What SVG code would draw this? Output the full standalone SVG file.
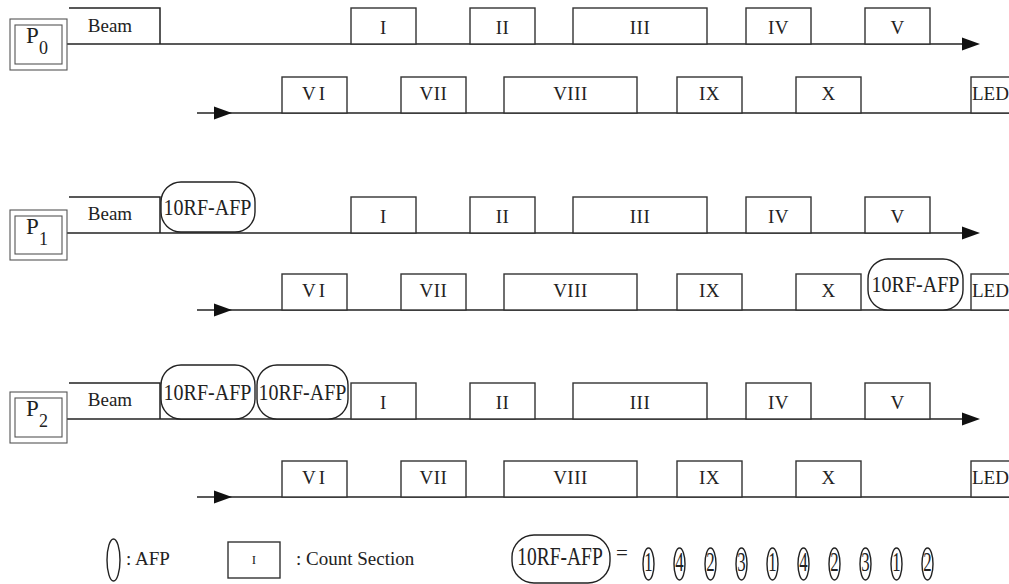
<svg xmlns="http://www.w3.org/2000/svg" xmlns:xlink="http://www.w3.org/1999/xlink" width="1009" height="584" viewBox="0 0 1009 584">
<style>
.box{fill:#fff;stroke:#333;stroke-width:1.4}
.ln{stroke:#222;stroke-width:1.5;fill:none}
.afp{fill:#fff;stroke:#222;stroke-width:1.4}
.pb{fill:none;stroke:#555;stroke-width:1.1}
.t{font-family:"Liberation Serif","Times New Roman",serif;font-size:19px;fill:#222;text-anchor:middle}
.rn{letter-spacing:0.5px}
.ts{text-anchor:start}
.pt{font-family:"Liberation Serif","Times New Roman",serif;font-size:23px;fill:#222}
.ps{font-family:"Liberation Serif","Times New Roman",serif;font-size:18px;fill:#222}
.rf{font-family:"Liberation Serif","Times New Roman",serif;font-size:20px;fill:#222;text-anchor:middle}
.dg{font-family:"Liberation Serif","Times New Roman",serif;font-size:21px;fill:#222;text-anchor:middle}
</style>
<defs>
<path id="ah" d="M0,-6.5 L18,0 L0,6.5 Z" fill="#111"/>
</defs>
<rect width="1009" height="584" fill="#fff"/>

<g id="connectors">
<line class="ln" x1="67" y1="44" x2="966" y2="44"/>
<use xlink:href="#ah" x="962" y="44"/>
<line class="ln" x1="197" y1="113" x2="1009" y2="113"/>
<use xlink:href="#ah" x="214" y="113"/>
<line class="ln" x1="67" y1="233" x2="966" y2="233"/>
<use xlink:href="#ah" x="962" y="233"/>
<line class="ln" x1="197" y1="310" x2="1009" y2="310"/>
<use xlink:href="#ah" x="214" y="310"/>
<line class="ln" x1="67" y1="419" x2="966" y2="419"/>
<use xlink:href="#ah" x="962" y="419"/>
<line class="ln" x1="197" y1="497" x2="1009" y2="497"/>
<use xlink:href="#ah" x="214" y="497"/>
</g>

<!-- Row P0 -->
<g id="p0"><rect class="pb" x="10" y="19" width="57" height="51"/><rect class="pb" x="15" y="25" width="47" height="39"/><text class="pt" x="26" y="43">P</text><text class="ps" x="39" y="54">0</text></g>
<g id="beam0"><path class="ln" d="M69,8 H160 V44"/><text class="t" x="110" y="32">Beam</text></g>
<g id="r0-I"><rect class="box" x="351" y="8" width="65" height="36"/><text class="t rn" x="383.5" y="34">I</text></g>
<g id="r0-II"><rect class="box" x="470" y="8" width="65" height="36"/><text class="t rn" x="502.5" y="34">II</text></g>
<g id="r0-III"><rect class="box" x="573" y="8" width="134" height="36"/><text class="t rn" x="640" y="34">III</text></g>
<g id="r0-IV"><rect class="box" x="746" y="8" width="65" height="36"/><text class="t rn" x="778.5" y="34">IV</text></g>
<g id="r0-V"><rect class="box" x="865" y="8" width="65" height="36"/><text class="t rn" x="897.5" y="34">V</text></g>
<g id="r0-VI"><rect class="box" x="282" y="77" width="65" height="36"/><text class="t" x="315" y="100" style="letter-spacing:3px">VI</text></g>
<g id="r0-VII"><rect class="box" x="401" y="77" width="65" height="36"/><text class="t rn" x="433.5" y="100">VII</text></g>
<g id="r0-VIII"><rect class="box" x="504" y="77" width="133" height="36"/><text class="t rn" x="570.5" y="100">VIII</text></g>
<g id="r0-IX"><rect class="box" x="677" y="77" width="65" height="36"/><text class="t rn" x="709.5" y="100">IX</text></g>
<g id="r0-X"><rect class="box" x="796" y="77" width="65" height="36"/><text class="t rn" x="828.5" y="100">X</text></g>
<g id="r0-LED"><rect class="box" x="971" y="77" width="60" height="36"/><text class="t ts" x="972" y="100">LED</text></g>

<!-- Row P1 -->
<g id="p1"><rect class="pb" x="10" y="210" width="57" height="50"/><rect class="pb" x="15" y="216" width="47" height="38"/><text class="pt" x="26" y="234">P</text><text class="ps" x="39" y="245">1</text></g>
<g id="beam1"><path class="ln" d="M69,197 H160 V233"/><text class="t" x="110" y="220">Beam</text></g>
<g id="r1-afp1"><rect class="afp" x="161" y="182" width="94" height="50" rx="20"/><text class="rf" transform="translate(207.5,215) scale(1,1.15)">10RF-AFP</text></g>
<g id="r1-I"><rect class="box" x="351" y="197" width="65" height="36"/><text class="t rn" x="383.5" y="223">I</text></g>
<g id="r1-II"><rect class="box" x="470" y="197" width="65" height="36"/><text class="t rn" x="502.5" y="223">II</text></g>
<g id="r1-III"><rect class="box" x="573" y="197" width="134" height="36"/><text class="t rn" x="640" y="223">III</text></g>
<g id="r1-IV"><rect class="box" x="746" y="197" width="65" height="36"/><text class="t rn" x="778.5" y="223">IV</text></g>
<g id="r1-V"><rect class="box" x="865" y="197" width="65" height="36"/><text class="t rn" x="897.5" y="223">V</text></g>
<g id="r1-VI"><rect class="box" x="282" y="274" width="65" height="36"/><text class="t" x="315" y="297" style="letter-spacing:3px">VI</text></g>
<g id="r1-VII"><rect class="box" x="401" y="274" width="65" height="36"/><text class="t rn" x="433.5" y="297">VII</text></g>
<g id="r1-VIII"><rect class="box" x="504" y="274" width="133" height="36"/><text class="t rn" x="570.5" y="297">VIII</text></g>
<g id="r1-IX"><rect class="box" x="677" y="274" width="65" height="36"/><text class="t rn" x="709.5" y="297">IX</text></g>
<g id="r1-X"><rect class="box" x="796" y="274" width="65" height="36"/><text class="t rn" x="828.5" y="297">X</text></g>
<g id="r1-afp2"><rect class="afp" x="868" y="259" width="95" height="51" rx="20"/><text class="rf" transform="translate(915.5,292) scale(1,1.15)">10RF-AFP</text></g>
<g id="r1-LED"><rect class="box" x="971" y="274" width="60" height="36"/><text class="t ts" x="972" y="297">LED</text></g>

<!-- Row P2 -->
<g id="p2"><rect class="pb" x="10" y="392" width="57" height="51"/><rect class="pb" x="15" y="398" width="47" height="39"/><text class="pt" x="26" y="416">P</text><text class="ps" x="39" y="427">2</text></g>
<g id="beam2"><path class="ln" d="M69,383 H160 V419"/><text class="t" x="110" y="406">Beam</text></g>
<g id="r2-afp1"><rect class="afp" x="161" y="365" width="94" height="54" rx="20"/><text class="rf" transform="translate(207.5,400) scale(1,1.15)">10RF-AFP</text></g>
<g id="r2-afp2"><rect class="afp" x="257" y="365" width="91" height="54" rx="20"/><text class="rf" transform="translate(302.5,400) scale(1,1.15)">10RF-AFP</text></g>
<g id="r2-I"><rect class="box" x="351" y="383" width="65" height="36"/><text class="t rn" x="383.5" y="409">I</text></g>
<g id="r2-II"><rect class="box" x="470" y="383" width="65" height="36"/><text class="t rn" x="502.5" y="409">II</text></g>
<g id="r2-III"><rect class="box" x="573" y="383" width="134" height="36"/><text class="t rn" x="640" y="409">III</text></g>
<g id="r2-IV"><rect class="box" x="746" y="383" width="65" height="36"/><text class="t rn" x="778.5" y="409">IV</text></g>
<g id="r2-V"><rect class="box" x="865" y="383" width="65" height="36"/><text class="t rn" x="897.5" y="409">V</text></g>
<g id="r2-VI"><rect class="box" x="282" y="461" width="65" height="36"/><text class="t" x="315" y="484" style="letter-spacing:3px">VI</text></g>
<g id="r2-VII"><rect class="box" x="401" y="461" width="65" height="36"/><text class="t rn" x="433.5" y="484">VII</text></g>
<g id="r2-VIII"><rect class="box" x="504" y="461" width="133" height="36"/><text class="t rn" x="570.5" y="484">VIII</text></g>
<g id="r2-IX"><rect class="box" x="677" y="461" width="65" height="36"/><text class="t rn" x="709.5" y="484">IX</text></g>
<g id="r2-X"><rect class="box" x="796" y="461" width="65" height="36"/><text class="t rn" x="828.5" y="484">X</text></g>
<g id="r2-LED"><rect class="box" x="971" y="461" width="60" height="36"/><text class="t ts" x="972" y="484">LED</text></g>

<!-- Legend -->
<g id="legend-afp"><ellipse class="afp" cx="113.5" cy="560" rx="6.5" ry="21"/><text class="t ts" x="126" y="565">: AFP</text></g>
<g id="legend-count"><rect class="box" x="228" y="542" width="52" height="36"/><text class="t" x="254" y="564" style="font-size:13px">I</text><text class="t ts" x="296" y="565">: Count Section</text></g>
<g id="legend-rf"><rect class="afp" x="512" y="535" width="98" height="48" rx="22"/><text class="rf" transform="translate(560,565) scale(1,1.3)" style="font-size:19.5px">10RF-AFP</text><text class="t" x="622" y="560" style="font-size:21px">=</text></g>
<g id="legend-seq">
<ellipse class="afp" cx="648.5" cy="564" rx="5.5" ry="16"/><text class="dg" transform="translate(648.5,571) scale(0.8,1.3)">1</text>
<ellipse class="afp" cx="679.5" cy="564" rx="5.5" ry="16"/><text class="dg" transform="translate(679.5,571) scale(0.8,1.3)">4</text>
<ellipse class="afp" cx="710.5" cy="564" rx="5.5" ry="16"/><text class="dg" transform="translate(710.5,571) scale(0.8,1.3)">2</text>
<ellipse class="afp" cx="741.5" cy="564" rx="5.5" ry="16"/><text class="dg" transform="translate(741.5,571) scale(0.8,1.3)">3</text>
<ellipse class="afp" cx="772.5" cy="564" rx="5.5" ry="16"/><text class="dg" transform="translate(772.5,571) scale(0.8,1.3)">1</text>
<ellipse class="afp" cx="803.5" cy="564" rx="5.5" ry="16"/><text class="dg" transform="translate(803.5,571) scale(0.8,1.3)">4</text>
<ellipse class="afp" cx="834.5" cy="564" rx="5.5" ry="16"/><text class="dg" transform="translate(834.5,571) scale(0.8,1.3)">2</text>
<ellipse class="afp" cx="865.5" cy="564" rx="5.5" ry="16"/><text class="dg" transform="translate(865.5,571) scale(0.8,1.3)">3</text>
<ellipse class="afp" cx="896.5" cy="564" rx="5.5" ry="16"/><text class="dg" transform="translate(896.5,571) scale(0.8,1.3)">1</text>
<ellipse class="afp" cx="927.5" cy="564" rx="5.5" ry="16"/><text class="dg" transform="translate(927.5,571) scale(0.8,1.3)">2</text>
</g>
</svg>
